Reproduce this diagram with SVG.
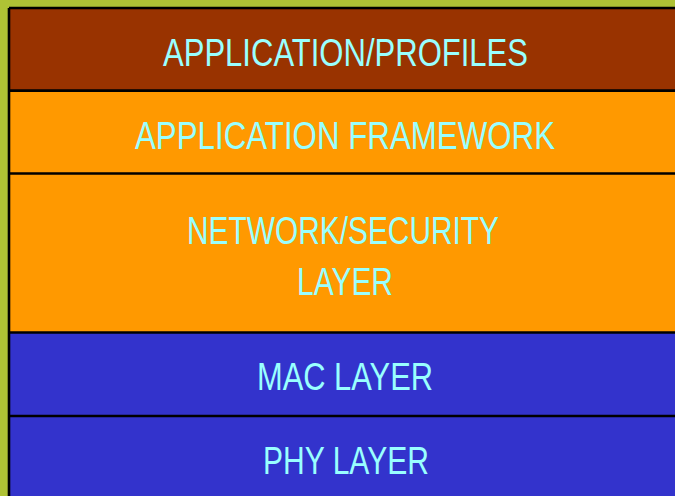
<svg xmlns="http://www.w3.org/2000/svg" width="675" height="496" viewBox="0 0 675 496">
<style>
.t{font-family:"Liberation Sans",Arial,sans-serif;font-size:39px;fill:#99FFFF;}
.div{stroke:#000;stroke-width:2.6;fill:none;}
</style>
<rect x="0" y="0" width="675" height="496" fill="#AFC235"/>
<g id="app-profiles">
<rect x="9" y="8" width="680" height="83" fill="#993300"/>
<text class="t" x="163" y="66" textLength="365" lengthAdjust="spacingAndGlyphs">APPLICATION/PROFILES</text>
</g>
<g id="app-framework">
<rect x="9" y="91" width="680" height="83" fill="#FF9900"/>
<text class="t" x="135" y="149" textLength="420" lengthAdjust="spacingAndGlyphs">APPLICATION FRAMEWORK</text>
</g>
<g id="network-security">
<rect x="9" y="174" width="680" height="159" fill="#FF9900"/>
<text class="t" x="187" y="244" textLength="312" lengthAdjust="spacingAndGlyphs">NETWORK/SECURITY</text>
<text class="t" x="297" y="295" textLength="96" lengthAdjust="spacingAndGlyphs">LAYER</text>
</g>
<g id="mac-layer">
<rect x="9" y="333" width="680" height="83" fill="#3333CC"/>
<text class="t" x="257" y="390" textLength="176" lengthAdjust="spacingAndGlyphs">MAC LAYER</text>
</g>
<g id="phy-layer">
<rect x="9" y="416" width="680" height="90" fill="#3333CC"/>
<text class="t" x="263" y="474" textLength="166" lengthAdjust="spacingAndGlyphs">PHY LAYER</text>
</g>
<g id="connectors">
<line class="div" x1="9" y1="8" x2="675" y2="8"/>
<line class="div" x1="9" y1="8" x2="9" y2="496"/>
<line class="div" x1="9" y1="90.6" x2="675" y2="90.6"/>
<line class="div" x1="9" y1="173.5" x2="675" y2="173.5"/>
<line class="div" x1="9" y1="332.5" x2="675" y2="332.5"/>
<line class="div" x1="9" y1="416" x2="675" y2="416"/>
</g>
</svg>
